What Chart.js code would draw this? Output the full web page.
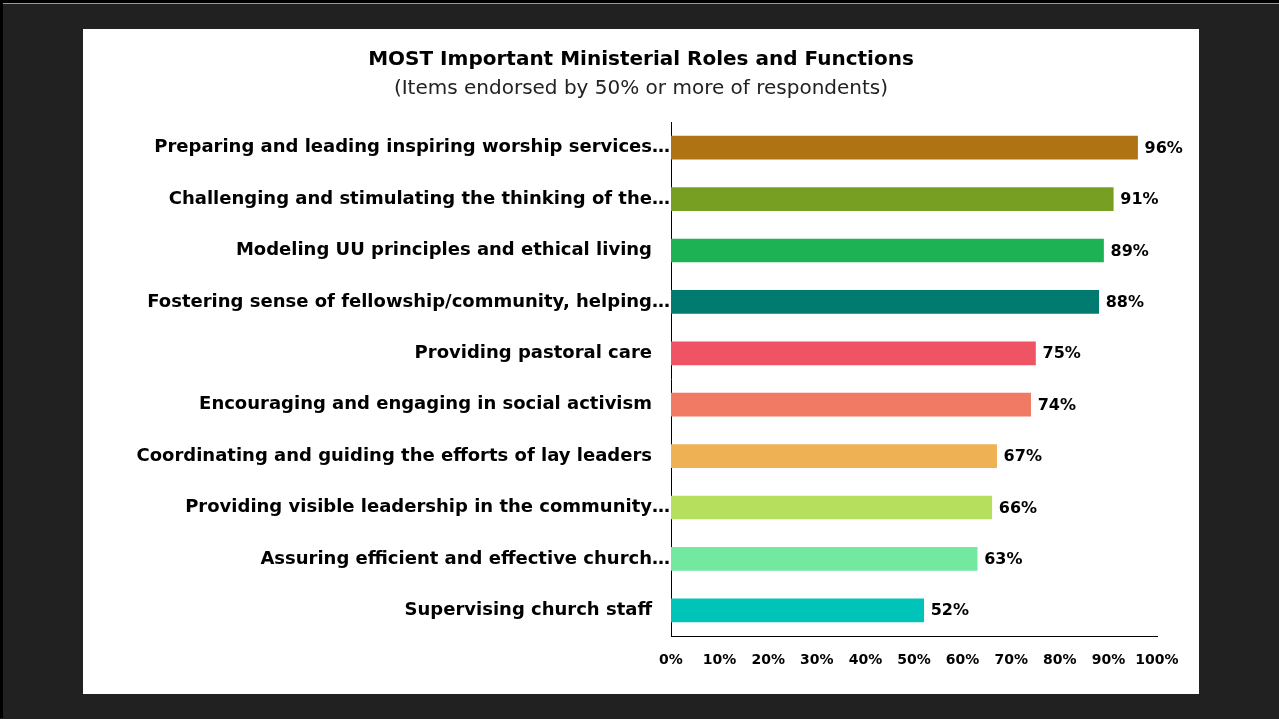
<!DOCTYPE html>
<html>
<head>
<meta charset="utf-8">
<title>Ministerial Roles</title>
<script src="https://cdn.jsdelivr.net/npm/chart.js@4.4.1/dist/chart.umd.min.js"></script>
<style>
  html, body { margin: 0; padding: 0; }
  body { width: 1279px; height: 719px; background: #212121; position: relative; overflow: hidden; }
  #frame { position: absolute; left: 0; top: 0; width: 1276px; height: 715px;
           border-left: 3px solid #000; border-top: 3px solid #000; box-shadow: inset 0 1px 0 #999; }
  #panel { position: absolute; left: 83px; top: 29px; width: 1116px; height: 665px; background: #fff; }
</style>
</head>
<body>
<div id="frame"></div>
<div id="panel"><canvas id="roles-chart" width="1116" height="665"></canvas></div>
<script>
const categories = [
  'Preparing and leading inspiring worship services…',
  'Challenging and stimulating the thinking of the…',
  'Modeling UU principles and ethical living',
  'Fostering sense of fellowship/community, helping…',
  'Providing pastoral care',
  'Encouraging and engaging in social activism',
  'Coordinating and guiding the efforts of lay leaders',
  'Providing visible leadership in the community…',
  'Assuring efficient and effective church…',
  'Supervising church staff'
];
const endorsed = [96, 91, 89, 88, 75, 74, 67, 66, 63, 52];
const barColors = ['#B07314', '#77A022', '#1DB354', '#017A6F', '#EE5463',
                   '#F07A63', '#EEB154', '#B7DF5E', '#72E8A0', '#00C4B8'];
const xTicks = [0, 10, 20, 30, 40, 50, 60, 70, 80, 90, 100];

const FONT = '"DejaVu Sans", sans-serif';

// percent labels just past the end of each bar
const valueLabels = {
  id: 'valueLabels',
  afterDatasetsDraw(chart) {
    const ctx = chart.ctx;
    const meta = chart.getDatasetMeta(0);
    ctx.save();
    ctx.font = 'bold 16px ' + FONT;
    ctx.fillStyle = '#000';
    ctx.textAlign = 'left';
    ctx.textBaseline = 'middle';
    meta.data.forEach((bar, i) => {
      ctx.fillText(endorsed[i] + '%', bar.x + 7, bar.y + 1);
    });
    ctx.restore();
  }
};

new Chart(document.getElementById('roles-chart'), {
  type: 'bar',
  data: {
    labels: categories,
    datasets: [{
      data: endorsed,
      backgroundColor: barColors,
      barThickness: 23
    }]
  },
  options: {
    indexAxis: 'y',
    responsive: false,
    animation: false,
    // equal side padding keeps the title centred on the panel
    layout: { padding: { right: 42, left: 42 } },
    plugins: {
      legend: { display: false },
      tooltip: { enabled: false },
      title: {
        display: true,
        text: 'MOST Important Ministerial Roles and Functions',
        color: '#000',
        font: { family: FONT, size: 20, weight: 'bold' },
        padding: { top: 19, bottom: 0 }
      },
      subtitle: {
        display: true,
        text: '(Items endorsed by 50% or more of respondents)',
        color: '#222',
        font: { family: FONT, size: 20, weight: 'normal' },
        padding: { top: 5, bottom: 21 }
      }
    },
    scales: {
      x: {
        min: 0,
        max: 100,
        afterBuildTicks: scale => { scale.ticks = xTicks.map(v => ({ value: v })); },
        afterFit: scale => { scale.height = 58; },
        grid: { display: false, drawTicks: false },
        border: { display: true, color: '#000', width: 1 },
        ticks: {
          color: '#000',
          padding: 16,
          maxRotation: 0,
          autoSkip: false,
          font: { family: FONT, size: 14, weight: 'bold' },
          callback: v => v + '%'
        }
      },
      y: {
        afterFit: scale => { scale.width = 546; },
        grid: { display: false, drawTicks: false },
        border: { display: true, color: '#000', width: 1 },
        ticks: {
          color: '#000',
          padding: 1,
          font: { family: FONT, size: 18, weight: 'bold' },
          // untruncated labels sit a little further from the axis
          callback: function (v) {
            const s = this.getLabelForValue(v);
            return s.endsWith('…') ? s : s + '\u2003';
          }
        }
      }
    }
  },
  plugins: [valueLabels]
});
</script>
</body>
</html>
